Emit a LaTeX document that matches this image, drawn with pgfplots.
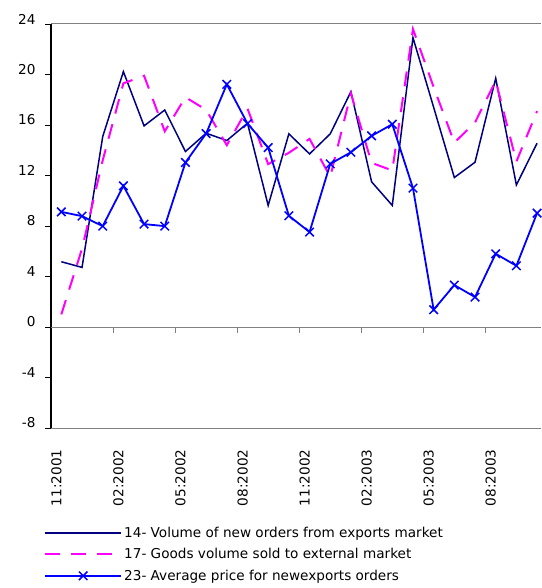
\documentclass[border=0pt]{standalone}
\usepackage{pgfplots}
\pgfplotsset{compat=1.18}
\usepackage{fontspec}
\setmainfont{DejaVu Sans}
\definecolor{navyc}{RGB}{0,0,128}
\definecolor{magc}{RGB}{255,0,255}
\definecolor{bluc}{RGB}{0,0,255}
\definecolor{axgray}{RGB}{128,128,128}
\begin{document}
\begin{tikzpicture}[x=1pt,y=1pt]
\useasboundingbox (0,0) rectangle (541,-588);
\begin{axis}[
  at={(51pt,-24pt)}, anchor=north west,
  scale only axis, width=490pt, height=404pt,
  xmin=-0.5, xmax=23.19, ymin=-8, ymax=24,
  axis x line=bottom, axis y line=left,
  axis line style={-},
  x axis line style={draw=axgray, line width=1pt},
  y axis line style={draw=black, line width=1.2pt},
  clip=false,
  xtick={0,3,...,21},
  xticklabels={11:2001,02:2002,05:2002,08:2002,11:2002,02:2003,05:2003,08:2003},
  x tick style={draw=none},
  xticklabel style={yshift=-12pt, rotate=90, anchor=base east, font=\fontsize{13.6}{16}\selectfont},
  ytick={-8,-4,0,4,8,12,16,20,24},
  y tick style={draw=black, line width=0.8pt},
  tick align=outside, major tick length=6pt,
  yticklabel style={yshift=5pt, xshift=-6pt, font=\fontsize{13.6}{16}\selectfont},
  /pgf/number format/assume math mode=true,
  legend style={at={(axis description cs:0,0)}, anchor=north west, xshift=-10pt, yshift=-95pt,
    draw=none, fill=none, font=\fontsize{13.6}{16}\selectfont, row sep=5.5pt},
  legend cell align=left,
  legend image code/.code={\draw[mark repeat=2,mark phase=2,#1] plot coordinates {(0pt,0pt) (38pt,0pt) (76pt,0pt)};},
]
\draw[axgray, line width=1pt] (axis cs:-0.5,24) -- (axis cs:23.19,24);
\draw[axgray, line width=1pt] (axis cs:-0.5,0) -- (axis cs:23.19,0);
\pgfplotsinvokeforeach{2.5,5.5,8.5,11.5,14.5,17.5,20.5}{
  \draw[axgray, line width=0.8pt] (axis cs:#1,0) -- ++(0pt,-6pt);
}
\addplot[navyc, line width=1.5pt] coordinates {
(0,5.17) (1,4.72) (2,15.08) (3,20.23) (4,15.93) (5,17.19) (6,13.9) (7,15.35)
(8,14.77) (9,16.14) (10,9.63) (11,15.30) (12,13.71) (13,15.30) (14,18.64) (15,11.5)
(16,9.63) (17,22.92) (18,17.4) (19,11.84) (20,13.05) (21,19.7) (22,11.25) (23,14.56)};
\addlegendentry{14- Volume of new orders from exports market}
\addplot[magc, line width=2pt, dash pattern=on 15pt off 11pt] coordinates {
(0,1.0) (1,6.2) (2,13.2) (3,19.3) (4,19.9) (5,15.5) (6,18.2) (7,17.2)
(8,14.4) (9,17.3) (10,12.9) (11,13.8) (12,14.9) (13,11.9) (14,18.5) (15,13.0)
(16,12.4) (17,23.6) (18,19.0) (19,14.6) (20,16.2) (21,19.5) (22,13.1) (23,17.1)};
\addlegendentry{17- Goods volume sold to external market}
\addplot[bluc, line width=1.8pt, mark=x, mark size=6pt, mark options={line width=1.5pt, solid}] coordinates {
(0,9.12) (1,8.78) (2,7.99) (3,11.18) (4,8.15) (5,7.99) (6,13.03) (7,15.32)
(8,19.22) (9,16.11) (10,14.21) (11,8.81) (12,7.52) (13,12.92) (14,13.84) (15,15.14)
(16,16.06) (17,11.0) (18,1.37) (19,3.32) (20,2.37) (21,5.80) (22,4.85) (23,9.02)};
\addlegendentry{23- Average price for newexports orders}
\end{axis}
\end{tikzpicture}
\end{document}
